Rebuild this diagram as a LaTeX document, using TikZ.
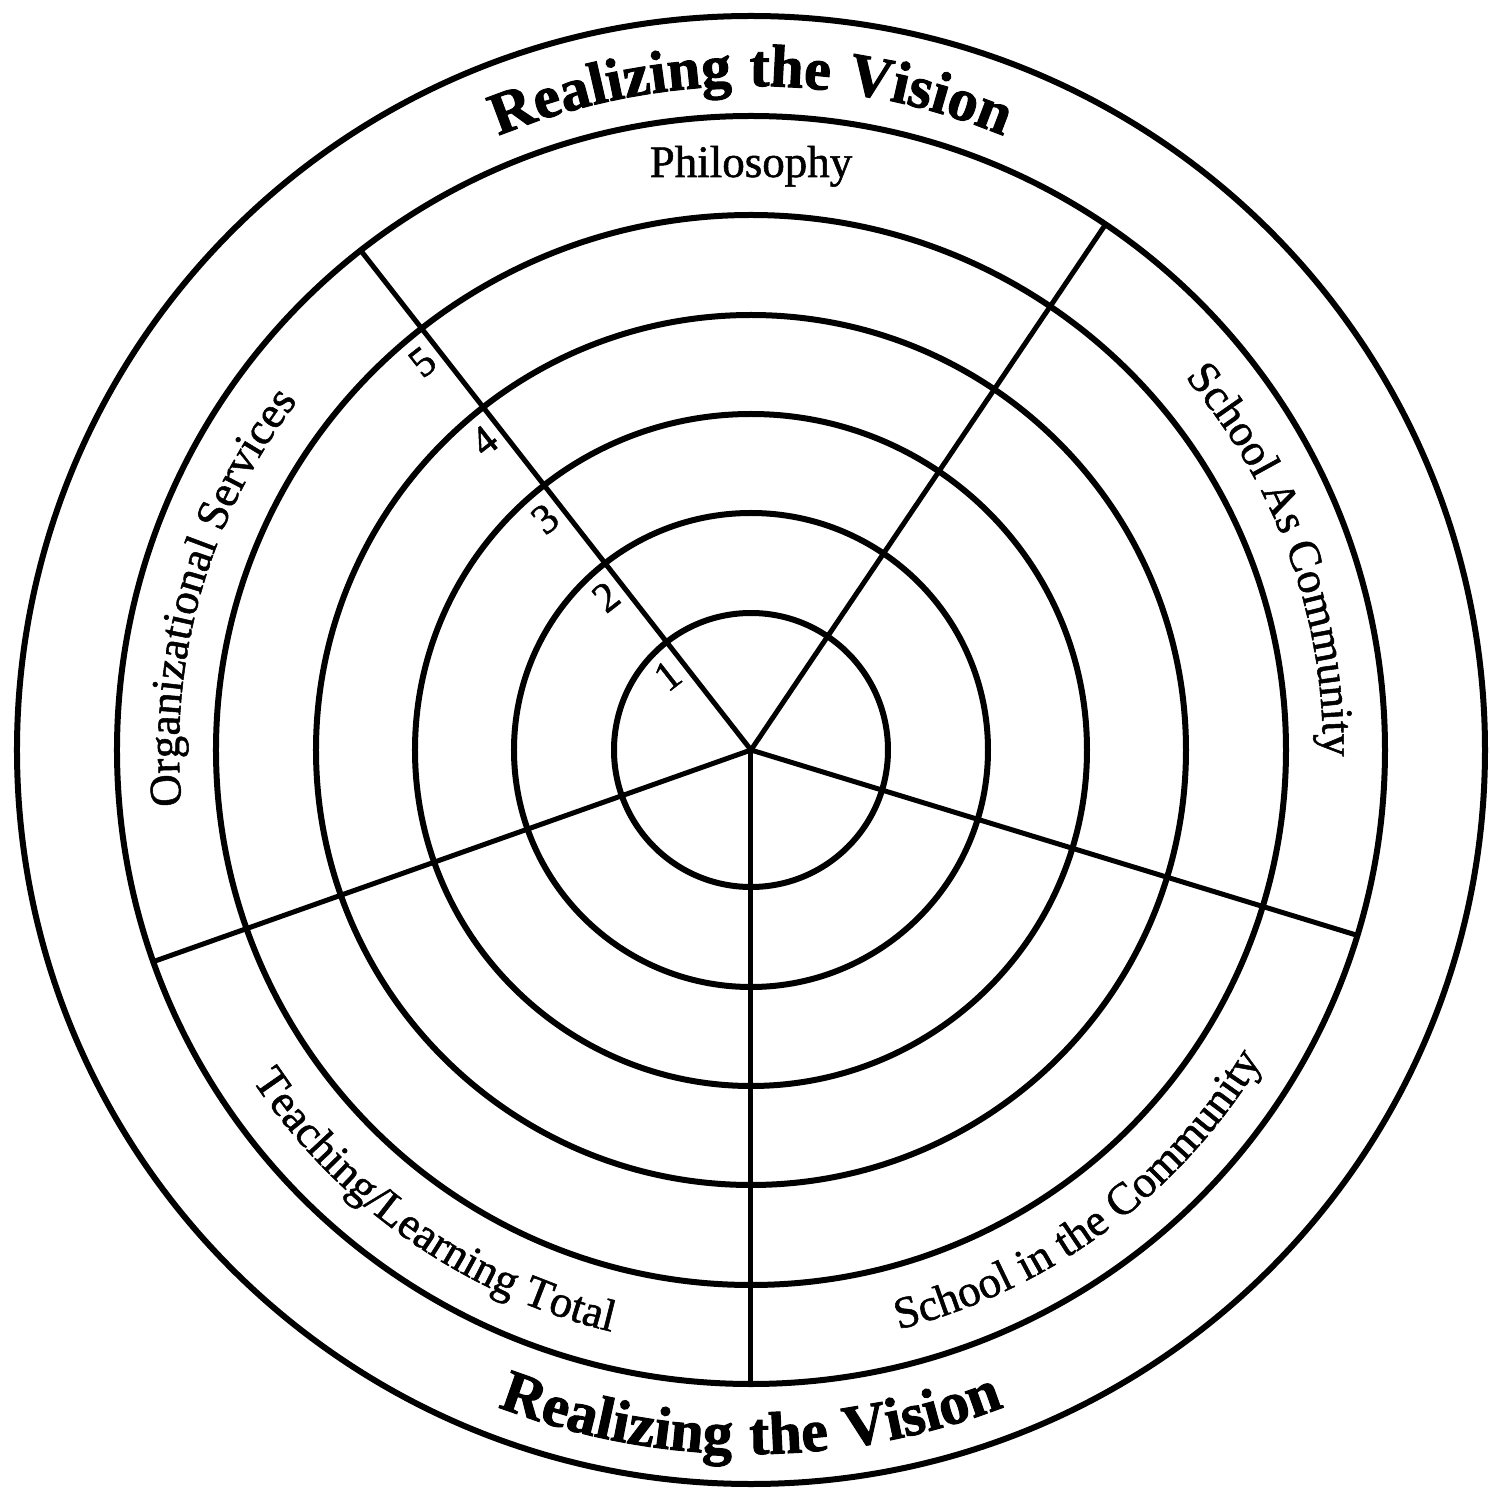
\documentclass[tikz,border=0pt]{standalone}
\usepackage{fontspec}
\setmainfont{Liberation Serif}
\newfontfamily\lblfont[FakeBold=1.2]{Liberation Serif}
\newfontfamily\titlefont[BoldFeatures={FakeBold=1.6, LetterSpace=4}]{Liberation Serif}
\usetikzlibrary{decorations.text,calc}
\begin{document}
\begin{tikzpicture}[x=1pt,y=1pt,
  ring/.style={line width=6pt},
  spoke/.style={line width=5pt},
  digit/.style={font=\lblfont\fontsize{42}{42}\selectfont, rotate=38, inner sep=0pt},
  lbl/.style={font=\lblfont\fontsize{45}{45}\selectfont}
]
\useasboundingbox (-751,-741) rectangle (739,750);
\fill[white] (-751,-741) rectangle (739,750);
\coordinate (c) at (0,0);
% rings
\foreach \r in {137,237,336,435,535,634,734}
  \draw[ring] (c) circle[radius=\r];
% spokes
\coordinate (e1) at (128:634);
\coordinate (e2) at (56:634);
\coordinate (e3) at (-17:634);
\coordinate (e4) at (270:634);
\coordinate (e5) at (199.5:634);
\foreach \e in {e1,e2,e3,e4,e5}
  \draw[spoke] (c) -- (\e);
% scale numbers
\foreach \n/\r in {1/110,2/210,3/309,4/408,5/508}
  \node[digit] (n\n) at ($(c)+(128:\r)+(218:20)$) {\n};
% sector labels
\node[lbl, anchor=base] (philo) at (0,573) {Philosophy};
\path[decorate, decoration={text along path, text align=center,
  text={|\lblfont\fontsize{45}{45}\selectfont|Organizational Services}}]
  (210:572) arc[start angle=210, end angle=118, radius=572];
\path[decorate, decoration={text along path, text align=center,
  text={|\lblfont\fontsize{45}{45}\selectfont|School As Community}}]
  (66:572) arc[start angle=66, end angle=-26, radius=572];
\path[decorate, decoration={text along path, text align=center,
  text={|\lblfont\fontsize{45}{45}\selectfont|Teaching/Learning Total}}]
  (190:598) arc[start angle=190, end angle=280, radius=598];
\path[decorate, decoration={text along path, text align=center,
  text={|\lblfont\fontsize{45}{45}\selectfont|School in the Community}}]
  (-100:598) arc[start angle=-100, end angle=-7, radius=598];
% outer band titles
\path[decorate, decoration={text along path, text align=center,
  text={|\titlefont\bfseries\fontsize{60}{60}\selectfont|Realizing the Vision}}]
  (136:664) arc[start angle=136, end angle=44, radius=664];
\path[decorate, decoration={text along path, text align=center,
  text={|\titlefont\bfseries\fontsize{60}{60}\selectfont|Realizing the Vision}}]
  (224:704) arc[start angle=224, end angle=316, radius=704];
\end{tikzpicture}
\end{document}
